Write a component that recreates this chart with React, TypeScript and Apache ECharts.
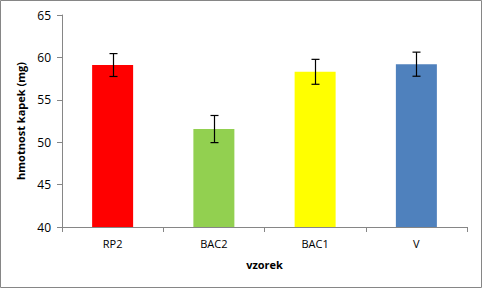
import React, { useEffect, useRef } from "react";
import * as echarts from "echarts";

const categories = ["RP2", "BAC2", "BAC1", "V"];
const values = [59.1, 51.55, 58.3, 59.2];
const errors = [1.35, 1.6, 1.47, 1.42];
const colors = ["#FF0000", "#92D050", "#FFFF00", "#4F81BD"];
const yTicks = { min: 40, max: 65, interval: 5 };

export default function App() {
  const ref = useRef<HTMLDivElement>(null);
  useEffect(() => {
    if (!ref.current) return;
    const chart = echarts.init(ref.current, null, { renderer: "svg" });
    const font = "'Open Sans', 'Liberation Sans', sans-serif";
    const axisColor = "#868686";
    chart.setOption({
      animation: false,
      backgroundColor: "#ffffff",
      graphic: [
        {
          type: "rect",
          shape: { x: 0.5, y: 0.5, width: 481, height: 287 },
          style: { fill: "none", stroke: axisColor, lineWidth: 1 },
          silent: true,
        },
      ],
      grid: { left: 62, right: 16, top: 15, bottom: 62 },
      xAxis: {
        type: "category",
        data: categories,
        axisLine: { lineStyle: { color: axisColor } },
        axisTick: { show: true, length: 5, lineStyle: { color: axisColor } },
        axisLabel: { color: "#000", fontFamily: font, fontSize: 11, margin: 11 },
        name: "vzorek",
        nameLocation: "middle",
        nameGap: 32,
        nameTextStyle: { color: "#000", fontFamily: font, fontSize: 11, fontWeight: "bold" },
      },
      yAxis: {
        type: "value",
        min: yTicks.min,
        max: yTicks.max,
        interval: yTicks.interval,
        splitLine: { show: false },
        axisLine: { show: true, lineStyle: { color: axisColor } },
        axisTick: { show: true, length: 5, lineStyle: { color: axisColor } },
        axisLabel: { color: "#000", fontFamily: font, fontSize: 12, margin: 11 },
        name: "hmotnost kapek (mg)",
        nameLocation: "middle",
        nameRotate: 90,
        nameGap: 30,
        nameTextStyle: { color: "#000", fontFamily: font, fontSize: 11, fontWeight: "bold" },
      },
      series: [
        {
          type: "bar",
          barWidth: 41,
          data: values.map((v, i) => ({ value: v, itemStyle: { color: colors[i] } })),
        },
        {
          type: "custom",
          data: values.map((v, i) => [i, v - errors[i], v + errors[i]]),
          z: 10,
          renderItem: (params: any, api: any) => {
            const lo = api.coord([api.value(0), api.value(1)]);
            const hi = api.coord([api.value(0), api.value(2)]);
            const x = Math.round(lo[0]) + 0.5;
            const hw = 4;
            const style = { stroke: "#000", lineWidth: 1.2 };
            return {
              type: "group",
              children: [
                { type: "line", shape: { x1: x, y1: hi[1], x2: x, y2: lo[1] }, style },
                { type: "line", shape: { x1: x - hw, y1: hi[1], x2: x + hw, y2: hi[1] }, style },
                { type: "line", shape: { x1: x - hw, y1: lo[1], x2: x + hw, y2: lo[1] }, style },
              ],
            };
          },
        },
      ],
    });
    return () => chart.dispose();
  }, []);
  return (
    <div
      ref={ref}
      style={{ position: "fixed", left: 0, top: 0, width: 483, height: 289 }}
    />
  );
}
